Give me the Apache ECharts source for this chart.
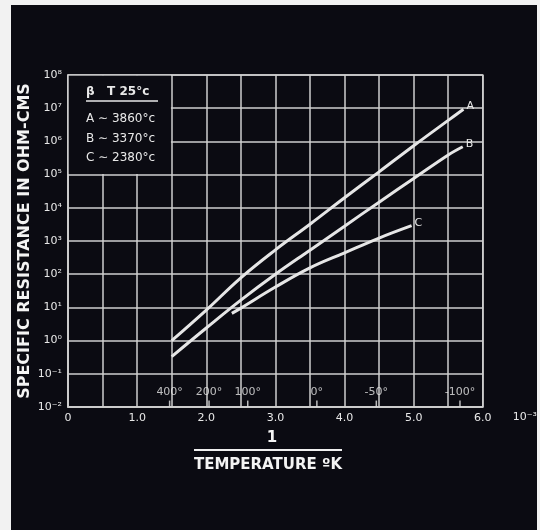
<!DOCTYPE html>
<html>
<head>
<meta charset="utf-8">
<script src="https://cdn.jsdelivr.net/npm/echarts@6/dist/echarts.min.js"></script>
<style>
  html, body { margin: 0; padding: 0; background: #f2f2f2; }
  #bg { position: absolute; left: 11px; top: 5px; width: 526px; height: 525px; background: #0b0b12; }
  #chart { position: absolute; left: 0; top: 0; width: 540px; height: 530px; }
</style>
</head>
<body>
<div id="bg"></div>
<div id="chart"></div>
<script>
// 1/T (x 10^-3) and specific resistance (ohm-cm)
const aX = [1.5, 2.0, 2.5, 3.0, 3.5, 4.0, 4.5, 5.0, 5.5, 5.72];
const aR = [1.0, 8.3, 78, 540, 3200, 20000, 121000, 740000, 4.3e6, 9.3e6];
const bX = [1.5, 2.0, 2.5, 3.0, 3.5, 4.0, 4.5, 5.0, 5.5, 5.71];
const bR = [0.33, 2.4, 16.6, 100, 530, 2800, 14800, 76000, 390000, 690000];
const cX = [2.37, 2.5, 3.0, 3.5, 4.0, 4.5, 4.97];
const cR = [6.6, 9.5, 41, 155, 440, 1230, 2900];
const seriesNames = ['A', 'B', 'C'];

// temperature (°C) marks along the bottom of the plot
const tempX = [1.47, 2.04, 2.6, 3.6, 4.46, 5.67];
const tempLabels = ['400°', '200°', '100°', '0°', '-50°', '-100°'];

// legend box texts
const legendHeader = 'β   T 25°c';
const legendLines = ['A ∼ 3860°c', 'B ∼ 3370°c', 'C ∼ 2380°c'];

const yAxisTitle = 'SPECIFIC RESISTANCE IN OHM-CMS';
const xTitleTop = '1';
const xTitleBottom = 'TEMPERATURE ºK';
const xUnit = '10⁻³';

const BG = '#0b0b12';
const GRIDC = '#cfcfcf';
const LINEC = '#e6e6e6';
const TXT = '#e8e8e8';

const sup = { '-': '⁻', '0': '⁰', '1': '¹', '2': '²', '3': '³', '4': '⁴', '5': '⁵', '6': '⁶', '7': '⁷', '8': '⁸', '9': '⁹' };
function pow10Label(v) {
  const e = Math.round(Math.log10(v));
  return '10' + String(e).split('').map(c => sup[c]).join('');
}
const zip = (xs, ys) => xs.map((x, i) => [x, ys[i]]);

const lineSeries = [[aX, aR], [bX, bR], [cX, cR]].map((d, i) => ({
  name: seriesNames[i],
  type: 'line',
  data: zip(d[0], d[1]),
  smooth: 0.4,
  symbol: 'none',
  lineStyle: { color: LINEC, width: 3 },
  endLabel: {
    show: true, formatter: '{a}', color: TXT, fontSize: 11,
    fontFamily: 'DejaVu Sans', distance: 3, offset: [0, -3]
  },
  z: 5
}));

const chart = echarts.init(document.getElementById('chart'), null, { renderer: 'canvas' });
chart.setOption({
  backgroundColor: 'transparent',
  animation: false,
  grid: { left: 68, right: 57, top: 75, bottom: 123, show: true, borderColor: GRIDC, borderWidth: 1.5, backgroundColor: 'transparent' },
  xAxis: {
    type: 'value', min: 0, max: 6, interval: 0.5,
    name: xUnit, nameLocation: 'end', nameGap: 30,
    nameTextStyle: { color: TXT, fontSize: 11, fontFamily: 'DejaVu Sans', verticalAlign: 'top', padding: [5, 0, 0, 0] },
    axisLine: { show: true, lineStyle: { color: GRIDC, width: 1.5 } },
    axisTick: { show: false },
    splitLine: { show: true, lineStyle: { color: GRIDC, width: 1.5 } },
    axisLabel: {
      color: TXT, fontSize: 11, fontFamily: 'DejaVu Sans', margin: 6,
      formatter: v => v === 0 ? '0' : (Math.abs(v - Math.round(v)) < 1e-9 ? v.toFixed(1) : '')
    }
  },
  yAxis: {
    type: 'log', logBase: 10, min: 0.01, max: 1e8, interval: 1,
    name: yAxisTitle, nameLocation: 'middle', nameRotate: 90, nameGap: 35,
    nameMoveOverlap: false,
    nameTextStyle: { color: '#f4f4f4', fontSize: 16, fontWeight: 'bold', fontFamily: 'DejaVu Sans' },
    axisLine: { show: true, lineStyle: { color: GRIDC, width: 1.5 } },
    axisTick: { show: false },
    splitLine: { show: true, lineStyle: { color: GRIDC, width: 1.5 } },
    axisLabel: { color: TXT, fontSize: 11, fontFamily: 'DejaVu Sans', margin: 6, formatter: pow10Label }
  },
  series: [
    // black legend box covering the top-left grid cells
    {
      type: 'line', data: [], silent: true,
      markArea: {
        silent: true,
        itemStyle: { color: BG },
        label: { show: false },
        data: [[{ xAxis: 0.011, yAxis: 1.05e5 }, { xAxis: 1.489, yAxis: 0.952e8 }]]
      },
      z: 3
    },
    ...lineSeries,
    {
      name: 'temp', type: 'scatter', silent: true,
      data: tempX.map((x, i) => ({ value: [x, 0.0127], name: tempLabels[i] })),
      symbol: 'rect', symbolSize: [1.5, 6],
      itemStyle: { color: TXT },
      label: { show: true, position: 'top', distance: 3, formatter: '{b}', color: TXT, fontSize: 11, fontFamily: 'DejaVu Sans' },
      z: 4
    }
  ],
  graphic: [
    { type: 'text', z: 100, left: 86, top: 86, style: { text: legendHeader, fill: TXT, font: 'bold 12px "DejaVu Sans"' } },
    { type: 'line', z: 100, shape: { x1: 86, y1: 101, x2: 158, y2: 101 }, style: { stroke: TXT, lineWidth: 1.5 } },
    ...legendLines.map((t, i) => ({
      type: 'text', z: 100, left: 86, top: 113 + i * 19.5,
      style: { text: t, fill: TXT, font: '12px "DejaVu Sans"' }
    })),
    { type: 'text', z: 100, x: 272, y: 438, style: { text: xTitleTop, fill: '#f4f4f4', font: 'bold 15px "DejaVu Sans"', align: 'center', verticalAlign: 'middle' } },
    { type: 'line', z: 100, shape: { x1: 194, y1: 450, x2: 342, y2: 450 }, style: { stroke: '#f0f0f0', lineWidth: 2 } },
    { type: 'text', z: 100, x: 268, y: 465, style: { text: xTitleBottom, fill: '#f4f4f4', font: 'bold 15px "DejaVu Sans"', align: 'center', verticalAlign: 'middle' } }
  ]
});
</script>
</body>
</html>
